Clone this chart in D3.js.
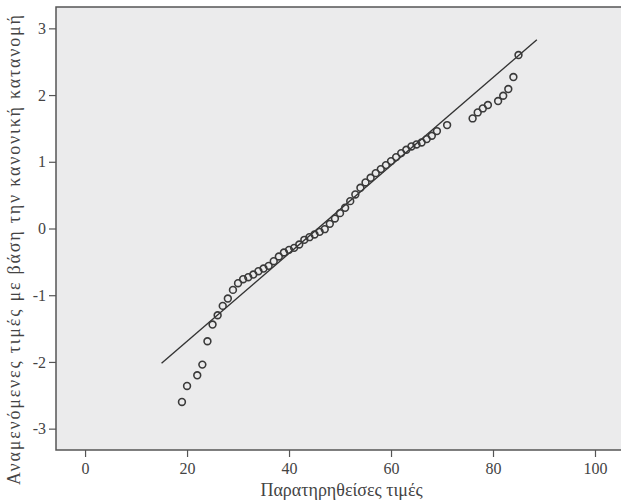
<!DOCTYPE html>
<html lang="el">
<head>
  <meta charset="UTF-8">
  <title>Normal Q-Q Plot</title>
  <script src="https://d3js.org/d3.v7.min.js"></script>
  <style>
    body { margin: 0; background: #ffffff; }
    svg text { font-family: "Liberation Serif", "DejaVu Serif", serif; }
  </style>
</head>
<body>
<script>
var observed = [19, 20, 22, 23, 24, 25, 26, 27, 28, 29, 30, 31, 32, 33, 34, 35, 36, 37, 38, 39,
                40, 41, 42, 43, 44, 45, 46, 47, 48, 49, 50, 51, 52, 53, 54, 55, 56, 57, 58, 59,
                60, 61, 62, 63, 64, 65, 66, 67, 68, 69, 71, 76, 77, 78, 79, 81, 82, 83, 84, 85];
var expected = [-2.60, -2.36, -2.20, -2.04, -1.69, -1.44, -1.30, -1.16, -1.05, -0.92, -0.82, -0.76, -0.73, -0.69, -0.64, -0.60, -0.56, -0.49, -0.42, -0.36,
                -0.32, -0.29, -0.24, -0.17, -0.13, -0.09, -0.05, -0.01, 0.07, 0.15, 0.23, 0.31, 0.41, 0.51, 0.61, 0.69, 0.76, 0.83, 0.89, 0.95,
                1.01, 1.07, 1.13, 1.18, 1.23, 1.26, 1.29, 1.34, 1.39, 1.46, 1.55, 1.65, 1.74, 1.80, 1.85, 1.91, 1.99, 2.09, 2.27, 2.60];

// reference line end points
var lineX = [15, 88.6];
var lineY = [-2.02, 2.83];

var xTicks = [0, 20, 40, 60, 80, 100];
var yTicks = [-3, -2, -1, 0, 1, 2, 3];

var xTitle = "Παρατηρηθείσες τιμές";
var yTitle = "Αναμενόμενες τιμές με βάση την κανονική κατανομή";

var W = 621, H = 502;
var plot = {left: 56, top: 7, right: 621, bottom: 450};

var svg = d3.select("body").append("svg")
    .attr("width", W)
    .attr("height", H);

var xScale = d3.scaleLinear().domain([-5.7, 105.1]).range([plot.left, plot.right]);
var yScale = d3.scaleLinear().domain([-3.32, 3.32]).range([plot.bottom, plot.top]);

// plot background + frame (right edge runs off the picture)
svg.append("rect")
   .attr("x", plot.left)
   .attr("y", plot.top)
   .attr("width", plot.right - plot.left + 5)
   .attr("height", plot.bottom - plot.top)
   .attr("fill", "#ebebec")
   .attr("stroke", "#555")
   .attr("stroke-width", 1.5);

// axes
var xAxis = svg.append("g")
   .attr("transform", "translate(0," + plot.bottom + ")")
   .call(d3.axisBottom(xScale).tickValues(xTicks).tickSize(7).tickPadding(6));

var yAxis = svg.append("g")
   .attr("transform", "translate(" + plot.left + ",0)")
   .call(d3.axisLeft(yScale).tickValues(yTicks).tickSize(7).tickPadding(3)
         .tickFormat(function(d) { return d < 0 ? "-" + Math.abs(d) : d; }));

[xAxis, yAxis].forEach(function(a) {
  a.select(".domain").remove();
  a.selectAll("line").attr("stroke", "#555").attr("stroke-width", 1.2);
  a.selectAll("text")
   .attr("fill", "#444")
   .style("font-size", "16px")
   .style("font-family", "'Liberation Serif', serif");
});

// reference line
svg.append("line")
   .attr("x1", xScale(lineX[0]))
   .attr("y1", yScale(lineY[0]))
   .attr("x2", xScale(lineX[1]))
   .attr("y2", yScale(lineY[1]))
   .attr("stroke", "#333")
   .attr("stroke-width", 1.4);

// points
svg.selectAll("circle.pt")
   .data(observed)
   .enter().append("circle")
   .attr("class", "pt")
   .attr("cx", function(d) { return xScale(d); })
   .attr("cy", function(d, i) { return yScale(expected[i]); })
   .attr("r", 3.4)
   .attr("fill", "none")
   .attr("stroke", "#3a3a3a")
   .attr("stroke-width", 1.6);

// axis titles
svg.append("text")
   .attr("x", (plot.left + plot.right) / 2 + 3)
   .attr("y", 496)
   .attr("text-anchor", "middle")
   .attr("fill", "#444")
   .style("font-size", "18px")
   .text(xTitle);

svg.append("text")
   .attr("transform", "translate(20," + 250 + ") rotate(-90)")
   .attr("text-anchor", "middle")
   .attr("fill", "#444")
   .attr("textLength", 470)
   .attr("lengthAdjust", "spacing")
   .style("font-size", "18px")
   .text(yTitle);
</script>
</body>
</html>
